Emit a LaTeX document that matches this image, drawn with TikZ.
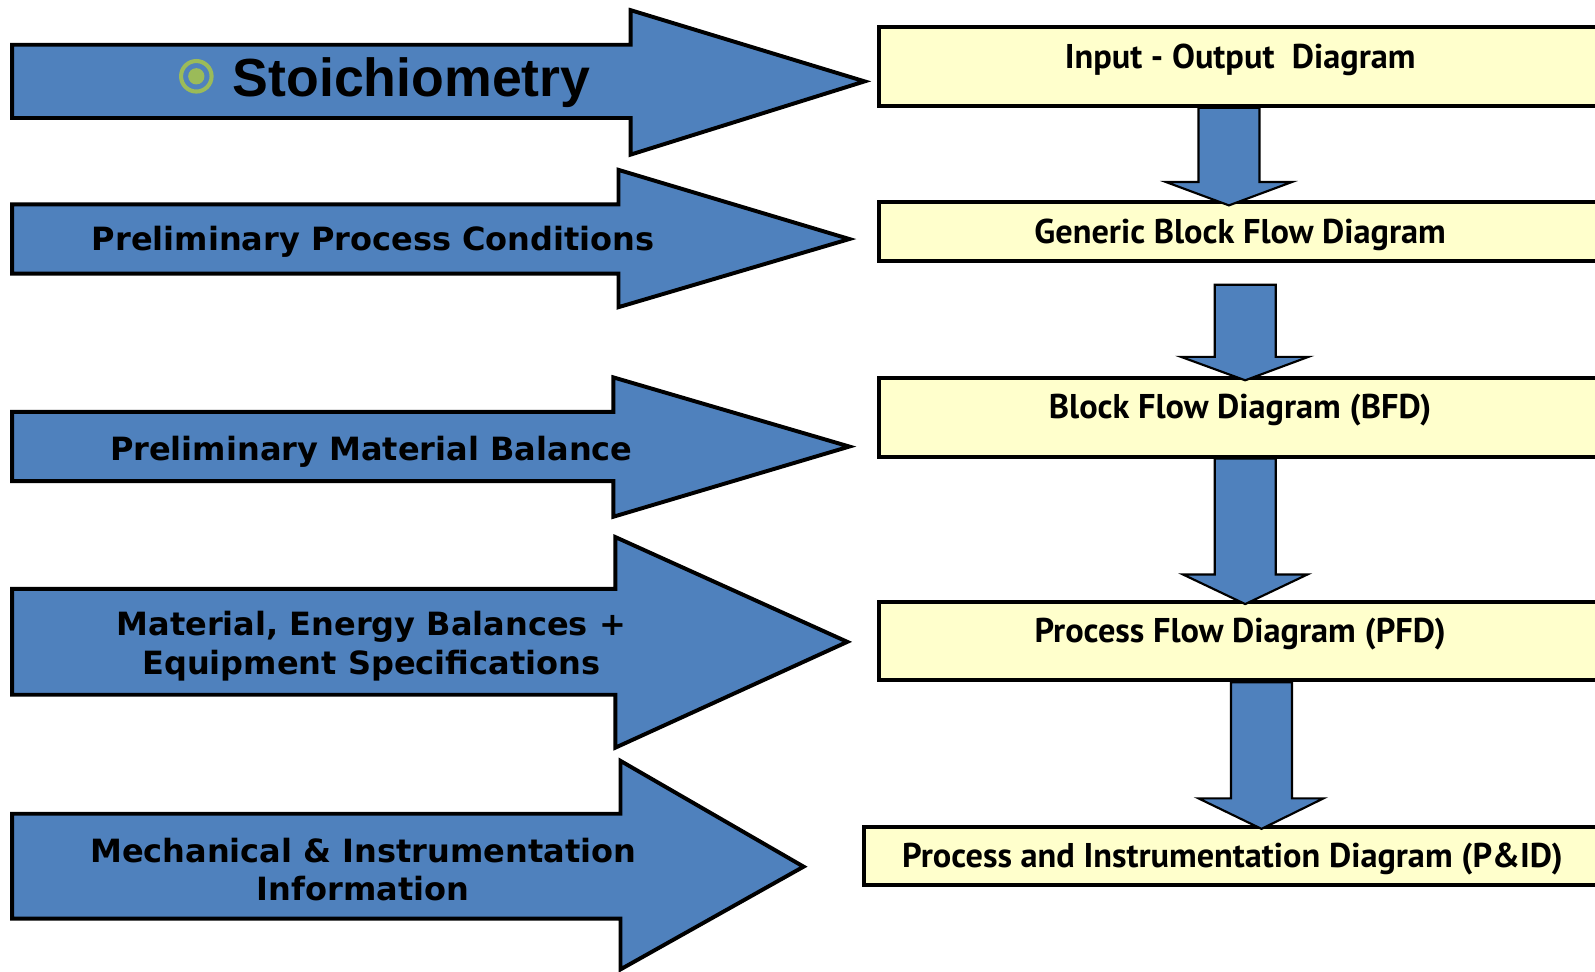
\documentclass[tikz,border=0pt]{standalone}
\usepackage{fontspec}
\usepackage{tikz, xcolor}
\usetikzlibrary{positioning}
\newfontfamily\stoichfont{Liberation Sans}
\newfontfamily\labelfont{DejaVu Sans}
\newfontfamily\boxfont{PT Sans}
\definecolor{flowblue}{HTML}{4F81BD}
\definecolor{boxyellow}{HTML}{FFFFCC}
\definecolor{bulletgreen}{HTML}{9BBB59}
\tikzstyle{inflow} = [draw = black, fill = flowblue, line width = 1.1pt, line join = miter]
\tikzstyle{downflow} = [draw = black, fill = flowblue, line width = 0.6pt]
\tikzstyle{leftText} = [align = center, inner sep = 0pt, font = \labelfont\bfseries\fontsize{8.95}{10.8}\selectfont]
\tikzstyle{diagram} = [rectangle, draw = black, fill = boxyellow, line width = 1.1pt, minimum width = 7.1cm, inner sep = 0pt, text height = 0.40cm, font = \boxfont\bfseries\fontsize{9.6}{11}\selectfont]
\tikzstyle{tall} = [diagram, text depth = 0.37cm]
\tikzstyle{slim} = [diagram, text depth = 0.18cm]

\begin{document}
\begin{tikzpicture}[x = 0.01cm, y = -0.01cm]
    \useasboundingbox (0,0) rectangle (1568,955);

    \draw [inflow] (12,44) -- (620,44) -- (620,10) -- (850,80) -- (620,152) -- (620,116) -- (12,116) -- cycle;
    \draw [inflow] (12,201) -- (608,201) -- (608,167) -- (835,235) -- (608,302) -- (608,269) -- (12,269) -- cycle;
    \draw [inflow] (12,405) -- (603,405) -- (603,371) -- (835,439) -- (603,508) -- (603,473) -- (12,473) -- cycle;
    \draw [inflow] (12,579) -- (605,579) -- (605,528) -- (833,631) -- (605,735) -- (605,683) -- (12,683) -- cycle;
    \draw [inflow] (12,800) -- (610,800) -- (610,748) -- (790,852) -- (610,953) -- (610,903) -- (12,903) -- cycle;

    \node (bullet) [circle, draw = bulletgreen, line width = 0.04cm, minimum size = 0.30cm, inner sep = 0pt, path picture = {\fill [bulletgreen] (path picture bounding box.center) circle (0.08cm);}] at (193,75) {};
    \node (stoich) [right = 0.18cm of bullet, inner sep = 0pt, text height = 0.40cm, text depth = 0pt, font = \stoichfont\bfseries\fontsize{15}{18}\selectfont] {Stoichiometry};
    \node (ppc) [leftText] at (367,238) {Preliminary Process Conditions};
    \node (pmb) [leftText] at (365,444) {Preliminary Material Balance};
    \node (meb) [leftText] at (365,635) {Material, Energy Balances +\\Equipment Specifications};
    \node (mii) [leftText] at (357,855) {Mechanical \& Instrumentation\\Information};

    \node (io) [tall, anchor = north west] at (862,25) {Input - Output\ \ Diagram};
    \node (gbfd) [slim, below = 0.91cm of io] {Generic Block Flow Diagram};
    \node (bfd) [tall, below = 1.11cm of gbfd] {Block Flow Diagram (BFD)};
    \node (pfd) [tall, below = 1.39cm of bfd] {Process Flow Diagram (PFD)};
    \node (pid) [slim, minimum width = 7.25cm, text depth = 0.17cm, below = 1.40cm of pfd.south east, anchor = north east] {Process and Instrumentation Diagram (P\&ID)};

    \draw [downflow] (io.south) ++(-41,0) -- ++(0,73) -- ++(-32,0) -- ++(62,23) -- ++(62,-23) -- ++(-32,0) -- ++(0,-73) -- cycle;
    \draw [downflow] (gbfd.south) ++(-25,21) -- ++(0,71) -- ++(-33,0) -- ++(63,23) -- ++(62,-23) -- ++(-32,0) -- ++(0,-71) -- cycle;
    \draw [downflow] (bfd.south) ++(-25,0) -- ++(0,114) -- ++(-31,0) -- ++(61,29) -- ++(61,-29) -- ++(-31,0) -- ++(0,-114) -- cycle;
    \draw [downflow] (pfd.south) ++(-9,0) -- ++(0,114) -- ++(-32,0) -- ++(62,30) -- ++(61,-30) -- ++(-31,0) -- ++(0,-114) -- cycle;
\end{tikzpicture}
\end{document}
